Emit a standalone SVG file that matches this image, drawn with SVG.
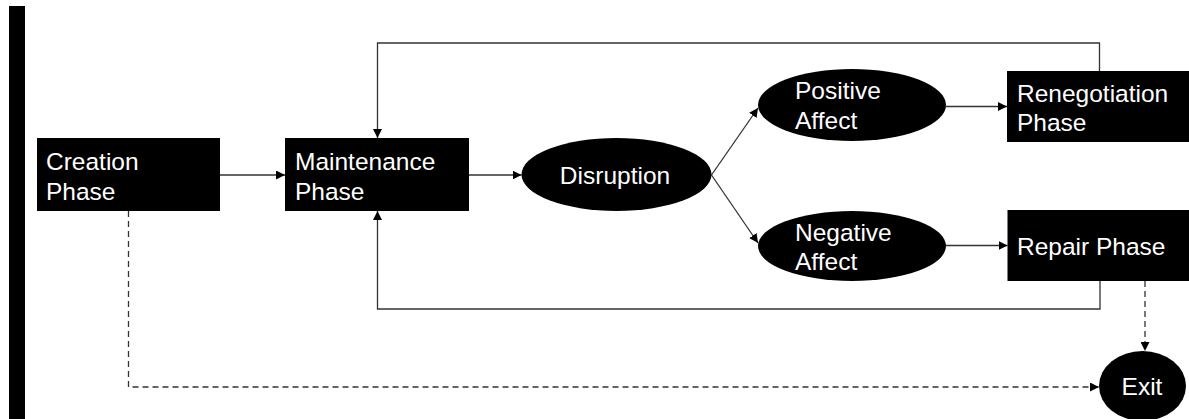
<svg xmlns="http://www.w3.org/2000/svg" width="1189" height="419" viewBox="0 0 1189 419">
  <style>
    .node { fill: #000; }
    .label { fill: #fff; font-family: "Liberation Sans", Arial, sans-serif; font-size: 24.5px; }
    .mid { text-anchor: middle; }
    .edge { fill: none; stroke: #333; stroke-width: 1.3; }
    .dash { stroke-dasharray: 6 4; }
  </style>
  <defs>
    <marker id="arrow" viewBox="0 0 10 10" refX="10" refY="5" markerWidth="9" markerHeight="9" markerUnits="userSpaceOnUse" orient="auto">
      <path d="M0,0 L10,5 L0,10 Z" fill="#000"/>
    </marker>
  </defs>
  <rect width="1189" height="419" fill="#fff"/>

  <!-- margin bar -->
  <rect x="9" y="6" width="16" height="413" fill="#000"/>

  <g id="connectors">
    <path class="edge" d="M220,175 H285" marker-end="url(#arrow)"/>
    <path class="edge" d="M469,175 H521.5" marker-end="url(#arrow)"/>
    <path class="edge" d="M711.5,175 L758,108" marker-end="url(#arrow)"/>
    <path class="edge" d="M711.5,175 L758,243" marker-end="url(#arrow)"/>
    <path class="edge" d="M946,106.5 H1007" marker-end="url(#arrow)"/>
    <path class="edge" d="M946,245.5 H1007.5" marker-end="url(#arrow)"/>
    <path class="edge" d="M1099.5,71 V43 H377.5 V138" marker-end="url(#arrow)"/>
    <path class="edge" d="M1100,281 V309 H377.5 V211" marker-end="url(#arrow)"/>
    <path class="edge dash" d="M1145,281 V351" marker-end="url(#arrow)"/>
    <path class="edge dash" d="M128.5,211 V387 H1099" marker-end="url(#arrow)"/>
  </g>

  <g id="creation">
    <rect class="node" x="37" y="138" width="183" height="73"/>
    <text class="label" x="46" y="170">Creation</text>
    <text class="label" x="46" y="200">Phase</text>
  </g>

  <g id="maintenance">
    <rect class="node" x="285" y="138" width="184" height="73"/>
    <text class="label" x="295" y="170">Maintenance</text>
    <text class="label" x="295" y="200">Phase</text>
  </g>

  <g id="disruption">
    <ellipse class="node" cx="616.5" cy="174.5" rx="95" ry="36.5"/>
    <text class="label mid" x="615" y="184">Disruption</text>
  </g>

  <g id="positive-affect">
    <ellipse class="node" cx="852" cy="105" rx="94" ry="36"/>
    <text class="label" x="795" y="99">Positive</text>
    <text class="label" x="795" y="129">Affect</text>
  </g>

  <g id="negative-affect">
    <ellipse class="node" cx="852" cy="246" rx="94" ry="35"/>
    <text class="label" x="795" y="241">Negative</text>
    <text class="label" x="795" y="270">Affect</text>
  </g>

  <g id="renegotiation">
    <rect class="node" x="1007" y="71" width="190" height="71"/>
    <text class="label" x="1017" y="102">Renegotiation</text>
    <text class="label" x="1017" y="131">Phase</text>
  </g>

  <g id="repair">
    <rect class="node" x="1007.5" y="210" width="190" height="71"/>
    <text class="label" x="1017" y="255">Repair Phase</text>
  </g>

  <g id="exit">
    <ellipse class="node" cx="1142.5" cy="386" rx="43.5" ry="35"/>
    <text class="label mid" x="1142" y="395">Exit</text>
  </g>
</svg>
